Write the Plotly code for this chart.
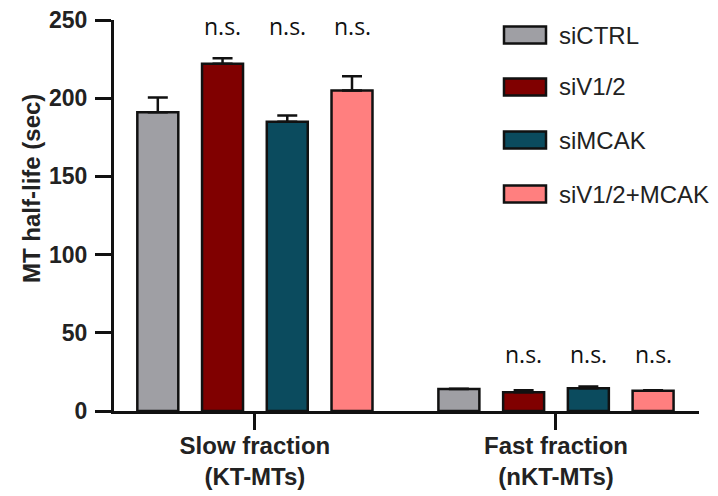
import plotly.graph_objects as go

groups = ["Slow fraction<br>(KT-MTs)", "Fast fraction<br>(nKT-MTs)"]
group_pos = [0, 1]
series = ["siCTRL", "siV1/2", "siMCAK", "siV1/2+MCAK"]
colors = ["#9f9fa4", "#800000", "#0b4b5e", "#ff7f7f"]
values = {
    "siCTRL": [191, 14],
    "siV1/2": [222, 12],
    "siMCAK": [185, 14.5],
    "siV1/2+MCAK": [205, 13],
}
errors = {
    "siCTRL": [9.5, 0.3],
    "siV1/2": [3.5, 1.2],
    "siMCAK": [4, 1.2],
    "siV1/2+MCAK": [9, 0.3],
}
sig_labels = {
    "siCTRL": ["", ""],
    "siV1/2": ["n.s.", "n.s."],
    "siMCAK": ["n.s.", "n.s."],
    "siV1/2+MCAK": ["n.s.", "n.s."],
}
sig_y = [246, 36.5]
y_ticks = [0, 50, 100, 150, 200, 250]
y_title = "MT half-life (sec)"

fig = go.Figure()
for name, col in zip(series, colors):
    fig.add_trace(go.Bar(
        x=group_pos, y=values[name], name=name,
        marker=dict(color=col, line=dict(color="#111111", width=2.5)),
        error_y=dict(type="data", array=errors[name],
                     arrayminus=[0] * len(errors[name]),
                     color="#111111", thickness=2.5, width=10),
        showlegend=False,
    ))

# significance labels positioned over each bar via bar offsets
n = len(series)
bargap = 0.14
slot = (1 - bargap) / n
for i, name in enumerate(series):
    off = -(1 - bargap) / 2 + slot * (i + 0.5)
    for gx, lab, yy in zip(group_pos, sig_labels[name], sig_y):
        if lab:
            fig.add_annotation(x=gx + off, y=yy, text=lab, showarrow=False,
                               xref="x", yref="y",
                               font=dict(family="Open Sans", size=23, color="#111111"))

# plot area in screen pixels (page has an 8px body offset)
L = 113; R = 698; T = 20; B = 411
W = R - L; H = B - T
OX = 7; OY = 8
leg_centers = [35, 87, 140, 194]
for name, col, cy in zip(series, colors, leg_centers):
    fig.add_shape(type="rect", xref="paper", yref="paper",
                  x0=(503 - L) / W, x1=(545 - L) / W,
                  y0=(B - cy - 8.5) / H, y1=(B - cy + 8.5) / H,
                  fillcolor=col, line=dict(color="#111111", width=2.5))
    fig.add_annotation(x=(556 - L) / W, y=(B - cy) / H, xref="paper", yref="paper",
                       text=name, showarrow=False, xanchor="left", yanchor="middle",
                       font=dict(family="Liberation Sans", size=24, color="#222222"))

# y-axis title
fig.add_annotation(x=(30 - L) / W, y=(B - 189) / H, xref="paper", yref="paper",
                   text=y_title, textangle=-90, showarrow=False,
                   xanchor="center", yanchor="middle",
                   font=dict(family="Liberation Sans", size=24, weight="bold", color="#222222"))

fig.update_layout(
    width=718, height=496,
    margin=dict(l=L - OX, r=718 - (L - OX) - W, t=T - OY, b=496 - (T - OY) - H),
    plot_bgcolor="white", paper_bgcolor="white",
    barmode="group", bargap=bargap, bargroupgap=0.367,
    font=dict(family="Liberation Sans", color="#222222"),
)
fig.update_xaxes(
    range=[-0.468, 1.475], tickvals=group_pos, ticktext=groups,
    showline=True, linecolor="#111111", linewidth=3,
    ticks="outside", ticklen=16, tickwidth=3, tickcolor="#111111",
    ticklabelstandoff=-5,
    tickfont=dict(family="Liberation Sans", size=24, weight="bold", color="#222222"),
    showgrid=False, zeroline=False, automargin=False,
)
fig.update_yaxes(
    range=[0, 250], tickvals=y_ticks,
    showline=True, linecolor="#111111", linewidth=3,
    ticks="outside", ticklen=16, tickwidth=3, tickcolor="#111111",
    ticklabelstandoff=3, ticklabeloverflow="allow",
    tickfont=dict(family="Liberation Sans", size=23, weight="bold", color="#222222"),
    showgrid=False, zeroline=False, automargin=False,
)

fig.write_html("out.html")
